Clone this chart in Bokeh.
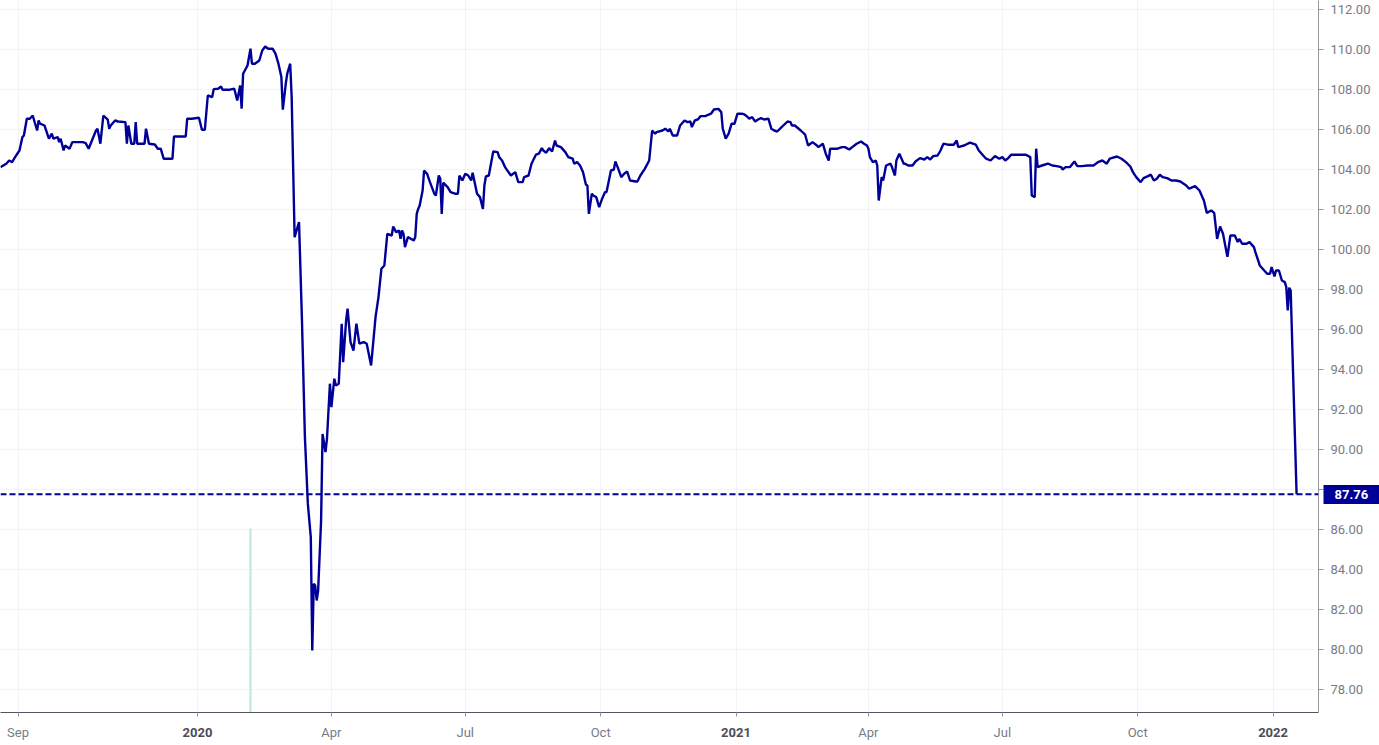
import pandas as pd
from bokeh.plotting import figure
from bokeh.models import (Range1d, FixedTicker, Span, PrintfTickFormatter,
                          DatetimeAxis, LinearAxis)
from bokeh.embed import file_html
from bokeh.resources import INLINE

# ---------------- data ----------------
dates = [
    "2019-08-20", "2019-08-24", "2019-08-26", "2019-08-28", "2019-08-30", "2019-09-02", "2019-09-04", "2019-09-05",
    "2019-09-07", "2019-09-09", "2019-09-11", "2019-09-14", "2019-09-15", "2019-09-16", "2019-09-19", "2019-09-22",
    "2019-09-24", "2019-09-25", "2019-09-28", "2019-09-29", "2019-09-30", "2019-10-02", "2019-10-03", "2019-10-06",
    "2019-10-08", "2019-10-15", "2019-10-17", "2019-10-19", "2019-10-24", "2019-10-25", "2019-10-27", "2019-10-29",
    "2019-11-01", "2019-11-02", "2019-11-03", "2019-11-06", "2019-11-08", "2019-11-13", "2019-11-14", "2019-11-15",
    "2019-11-17", "2019-11-19", "2019-11-20", "2019-11-21", "2019-11-26", "2019-11-27", "2019-11-29", "2019-12-03",
    "2019-12-05", "2019-12-07", "2019-12-09", "2019-12-15", "2019-12-16", "2019-12-24", "2019-12-25", "2019-12-28",
    "2020-01-02", "2020-01-04", "2020-01-06", "2020-01-08", "2020-01-11", "2020-01-12", "2020-01-15", "2020-01-17",
    "2020-01-18", "2020-01-23", "2020-01-26", "2020-01-28", "2020-01-30", "2020-01-31", "2020-02-01", "2020-02-04",
    "2020-02-06", "2020-02-07", "2020-02-09", "2020-02-12", "2020-02-14", "2020-02-16", "2020-02-18", "2020-02-21",
    "2020-02-23", "2020-02-25", "2020-02-27", "2020-02-28", "2020-03-01", "2020-03-02", "2020-03-04", "2020-03-05",
    "2020-03-07", "2020-03-10", "2020-03-12", "2020-03-14", "2020-03-16", "2020-03-18", "2020-03-19", "2020-03-20",
    "2020-03-21", "2020-03-22", "2020-03-23", "2020-03-25", "2020-03-26", "2020-03-28", "2020-03-29", "2020-03-31",
    "2020-04-01", "2020-04-03", "2020-04-04", "2020-04-06", "2020-04-08", "2020-04-09", "2020-04-11", "2020-04-12",
    "2020-04-14", "2020-04-16", "2020-04-18", "2020-04-20", "2020-04-23", "2020-04-25", "2020-04-28", "2020-05-01",
    "2020-05-03", "2020-05-05", "2020-05-07", "2020-05-09", "2020-05-12", "2020-05-13", "2020-05-15", "2020-05-17",
    "2020-05-18", "2020-05-19", "2020-05-20", "2020-05-21", "2020-05-23", "2020-05-25", "2020-05-27", "2020-05-28",
    "2020-05-29", "2020-05-30", "2020-05-31", "2020-06-02", "2020-06-03", "2020-06-05", "2020-06-07", "2020-06-10",
    "2020-06-11", "2020-06-13", "2020-06-14", "2020-06-15", "2020-06-16", "2020-06-19", "2020-06-21", "2020-06-24",
    "2020-06-26", "2020-06-27", "2020-06-29", "2020-07-01", "2020-07-03", "2020-07-05", "2020-07-06", "2020-07-09",
    "2020-07-11", "2020-07-13", "2020-07-14", "2020-07-15", "2020-07-17", "2020-07-20", "2020-07-23", "2020-07-24",
    "2020-07-26", "2020-07-28", "2020-08-01", "2020-08-04", "2020-08-06", "2020-08-09", "2020-08-10", "2020-08-13",
    "2020-08-15", "2020-08-18", "2020-08-20", "2020-08-22", "2020-08-23", "2020-08-25", "2020-08-27", "2020-08-29",
    "2020-08-31", "2020-09-01", "2020-09-04", "2020-09-07", "2020-09-09", "2020-09-12", "2020-09-13", "2020-09-15",
    "2020-09-17", "2020-09-19", "2020-09-21", "2020-09-22", "2020-09-23", "2020-09-25", "2020-09-26", "2020-09-28",
    "2020-09-30", "2020-10-02", "2020-10-04", "2020-10-05", "2020-10-08", "2020-10-10", "2020-10-11", "2020-10-13",
    "2020-10-15", "2020-10-17", "2020-10-19", "2020-10-21", "2020-10-25", "2020-10-26", "2020-10-28", "2020-10-31",
    "2020-11-03", "2020-11-05", "2020-11-07", "2020-11-08", "2020-11-12", "2020-11-14", "2020-11-16", "2020-11-17",
    "2020-11-19", "2020-11-22", "2020-11-24", "2020-11-27", "2020-11-29", "2020-12-01", "2020-12-02", "2020-12-04",
    "2020-12-06", "2020-12-08", "2020-12-11", "2020-12-15", "2020-12-17", "2020-12-20", "2020-12-22", "2020-12-23",
    "2020-12-25", "2020-12-27", "2020-12-29", "2020-12-31", "2021-01-02", "2021-01-05", "2021-01-07", "2021-01-09",
    "2021-01-10", "2021-01-12", "2021-01-14", "2021-01-16", "2021-01-18", "2021-01-20", "2021-01-23", "2021-01-25",
    "2021-01-27", "2021-01-29", "2021-02-01", "2021-02-05", "2021-02-07", "2021-02-08", "2021-02-10", "2021-02-14",
    "2021-02-17", "2021-02-19", "2021-02-22", "2021-02-25", "2021-02-26", "2021-03-01", "2021-03-03", "2021-03-05",
    "2021-03-06", "2021-03-11", "2021-03-14", "2021-03-16", "2021-03-19", "2021-03-21", "2021-03-24", "2021-03-27",
    "2021-03-29", "2021-03-31", "2021-04-01", "2021-04-02", "2021-04-04", "2021-04-06", "2021-04-07", "2021-04-08",
    "2021-04-10", "2021-04-11", "2021-04-13", "2021-04-16", "2021-04-17", "2021-04-19", "2021-04-20", "2021-04-22",
    "2021-04-23", "2021-04-25", "2021-04-26", "2021-04-28", "2021-05-01", "2021-05-03", "2021-05-06", "2021-05-09",
    "2021-05-11", "2021-05-13", "2021-05-15", "2021-05-18", "2021-05-20", "2021-05-22", "2021-05-25", "2021-05-29",
    "2021-05-31", "2021-06-01", "2021-06-05", "2021-06-09", "2021-06-13", "2021-06-15", "2021-06-18", "2021-06-20",
    "2021-06-23", "2021-06-26", "2021-06-29", "2021-07-01", "2021-07-03", "2021-07-05", "2021-07-07", "2021-07-11",
    "2021-07-17", "2021-07-20", "2021-07-21", "2021-07-23", "2021-07-24", "2021-07-25", "2021-07-28", "2021-08-01",
    "2021-08-04", "2021-08-07", "2021-08-10", "2021-08-11", "2021-08-13", "2021-08-16", "2021-08-19", "2021-08-21",
    "2021-08-24", "2021-08-28", "2021-09-01", "2021-09-04", "2021-09-07", "2021-09-10", "2021-09-12", "2021-09-17",
    "2021-09-20", "2021-09-23", "2021-09-26", "2021-09-28", "2021-09-30", "2021-10-03", "2021-10-05", "2021-10-08",
    "2021-10-10", "2021-10-12", "2021-10-14", "2021-10-16", "2021-10-18", "2021-10-21", "2021-10-24", "2021-10-27",
    "2021-10-30", "2021-11-03", "2021-11-05", "2021-11-09", "2021-11-12", "2021-11-15", "2021-11-17", "2021-11-20",
    "2021-11-22", "2021-11-24", "2021-11-26", "2021-11-28", "2021-12-01", "2021-12-03", "2021-12-06", "2021-12-08",
    "2021-12-09", "2021-12-11", "2021-12-14", "2021-12-16", "2021-12-19", "2021-12-20", "2021-12-23", "2021-12-26",
    "2021-12-28", "2021-12-30", "2021-12-31", "2022-01-02", "2022-01-03", "2022-01-05", "2022-01-07", "2022-01-09",
    "2022-01-10", "2022-01-11", "2022-01-12", "2022-01-13", "2022-01-16", "2022-01-17",
]
prices = [
    104.12, 104.29, 104.45, 104.37, 104.62, 104.95, 105.62, 105.70,
    106.54, 106.54, 106.70, 105.95, 106.45, 106.29, 106.20, 105.54,
    105.79, 105.54, 105.62, 105.37, 105.54, 104.95, 105.20, 105.04,
    105.37, 105.37, 105.32, 105.04, 105.95, 106.04, 105.29, 106.70,
    106.49, 106.04, 106.20, 106.45, 106.40, 106.37, 105.29, 106.20,
    105.29, 105.29, 106.37, 105.29, 105.29, 106.04, 105.29, 105.25,
    105.04, 105.04, 104.54, 104.54, 105.65, 105.65, 106.54, 106.54,
    106.59, 105.99, 105.99, 107.70, 107.62, 108.02, 108.04, 108.15,
    107.99, 107.99, 108.04, 107.45, 108.20, 107.04, 108.79, 109.20,
    110.04, 109.29, 109.29, 109.45, 109.95, 110.15, 110.04, 110.04,
    109.79, 109.29, 108.62, 106.99, 108.29, 108.79, 109.29, 107.62,
    100.62, 101.37, 96.45, 90.62, 87.28, 85.62, 79.95, 83.28,
    83.20, 82.45, 82.95, 86.45, 90.78, 89.87, 90.54, 93.29,
    92.12, 93.54, 93.20, 93.29, 96.29, 94.37, 96.45, 97.04,
    95.37, 94.95, 96.29, 95.29, 95.37, 95.29, 94.20, 96.62,
    97.62, 99.04, 99.20, 100.78, 100.70, 101.15, 100.87, 100.95,
    100.54, 100.95, 100.79, 100.12, 100.62, 100.54, 100.45, 100.62,
    101.78, 102.03, 102.20, 102.95, 103.95, 103.79, 103.37, 102.78,
    102.70, 103.70, 103.54, 101.78, 103.34, 103.12, 102.87, 102.79,
    102.79, 103.70, 103.45, 103.79, 103.70, 103.45, 103.84, 102.79,
    102.62, 102.03, 103.20, 103.65, 103.70, 104.90, 104.87, 104.62,
    104.45, 104.12, 103.70, 103.87, 103.37, 103.37, 103.62, 103.70,
    104.29, 104.74, 104.79, 105.07, 104.95, 104.84, 105.07, 104.90,
    105.45, 105.20, 105.12, 104.87, 104.62, 104.54, 104.29, 104.37,
    104.20, 103.87, 103.24, 103.20, 101.78, 102.79, 102.70, 102.62,
    102.12, 102.54, 102.87, 102.87, 103.95, 104.00, 104.40, 104.03,
    103.62, 103.79, 103.90, 103.45, 103.40, 103.40, 103.70, 104.03,
    104.45, 105.95, 105.79, 105.87, 105.95, 106.04, 105.90, 106.04,
    105.70, 105.70, 106.20, 106.45, 106.37, 106.40, 106.12, 106.45,
    106.50, 106.67, 106.67, 106.79, 107.00, 107.03, 106.87, 106.04,
    105.54, 105.79, 106.29, 106.29, 106.79, 106.79, 106.74, 106.62,
    106.54, 106.62, 106.40, 106.50, 106.57, 106.50, 106.54, 106.04,
    105.95, 105.90, 106.12, 106.40, 106.37, 106.20, 106.20, 105.95,
    105.74, 105.20, 105.37, 105.20, 105.12, 105.29, 104.79, 104.45,
    105.04, 105.04, 105.12, 105.12, 105.00, 105.12, 105.29, 105.40,
    105.29, 105.20, 105.04, 104.62, 104.37, 104.45, 104.20, 102.45,
    103.62, 103.45, 104.20, 104.29, 104.12, 103.70, 104.45, 104.79,
    104.62, 104.29, 104.29, 104.20, 104.20, 104.40, 104.57, 104.50,
    104.62, 104.50, 104.67, 104.70, 104.95, 105.29, 105.24, 105.24,
    105.45, 105.12, 105.20, 105.34, 105.24, 104.95, 104.70, 104.54,
    104.45, 104.67, 104.54, 104.62, 104.45, 104.57, 104.74, 104.74,
    104.74, 104.62, 102.70, 102.62, 105.04, 104.12, 104.20, 104.29,
    104.20, 104.17, 104.12, 104.00, 104.12, 104.12, 104.40, 104.17,
    104.17, 104.20, 104.20, 104.37, 104.45, 104.29, 104.54, 104.65,
    104.54, 104.37, 104.15, 103.84, 103.62, 103.37, 103.57, 103.67,
    103.74, 103.45, 103.54, 103.74, 103.62, 103.57, 103.45, 103.45,
    103.40, 103.20, 103.04, 103.17, 102.95, 102.45, 101.83, 101.95,
    101.83, 100.53, 101.15, 100.79, 99.63, 100.70, 100.70, 100.37,
    100.53, 100.29, 100.29, 100.37, 100.12, 99.87, 99.20, 98.95,
    98.79, 98.79, 99.12, 98.65, 98.95, 98.95, 98.45, 98.37,
    98.12, 96.95, 98.09, 97.95, 90.31, 87.76,
]
last_price = 87.76
marker_date = "2020-02-06"
marker_top = 86.05

x_tick_dates = ["2019-09-01", "2020-01-01", "2020-04-01", "2020-07-01", "2020-10-01",
                "2021-01-01", "2021-04-01", "2021-07-01", "2021-10-01", "2022-01-01"]
x_tick_labels = ["Sep", "2020", "Apr", "Jul", "Oct", "2021", "Apr", "Jul", "Oct", "2022"]
year_labels = {"2020", "2021", "2022"}
y_ticks = list(range(78, 113, 2))

# ---------------- styling ----------------
NAVY = "#000099"
GRID = "#f0f3fa"
AXIS_TEXT = "#787b86"
YEAR_TEXT = "#4a4d57"
FONT = "Roboto"

x_start = pd.Timestamp("2019-08-20 02:30")
x_end = pd.Timestamp("2022-01-31 21:30")
y_start, y_end = 76.85, 112.45


def ms(ts):
    return pd.Timestamp(ts).value / 1e6


x = pd.to_datetime(dates)

p = figure(width=1379, height=745, x_axis_type="datetime", y_axis_location="right",
           x_range=Range1d(x_start, x_end), y_range=Range1d(y_start, y_end),
           output_backend="svg", toolbar_location=None,
           min_border_left=0, min_border_top=0, min_border_right=61, min_border_bottom=33)
p.outline_line_color = None
p.background_fill_color = "white"
p.border_fill_color = "white"

# grid
p.xgrid.grid_line_color = GRID
p.ygrid.grid_line_color = GRID

# x axis: month labels (years blank here, drawn bold by a second axis)
tick_ms = [ms(d) for d in x_tick_dates]
xa = p.xaxis[0]
xa.ticker = FixedTicker(ticks=tick_ms)
xa.major_label_overrides = {t: ("" if lab in year_labels else lab)
                            for t, lab in zip(tick_ms, x_tick_labels)}
xa.axis_line_color = "#50535e"
xa.major_tick_line_color = "#9598a1"
xa.major_tick_in = 0
xa.major_tick_out = 4
xa.minor_tick_line_color = None
xa.major_label_standoff = 8
xa.major_label_text_color = AXIS_TEXT
xa.major_label_text_font = FONT
xa.major_label_text_font_size = "13px"

# second time axis with bold year labels, pulled up onto the month row
year_ticks = [t for t, lab in zip(tick_ms, x_tick_labels) if lab in year_labels]
ya_years = DatetimeAxis(ticker=FixedTicker(ticks=year_ticks))
ya_years.major_label_overrides = {t: lab for t, lab in zip(tick_ms, x_tick_labels) if lab in year_labels}
ya_years.axis_line_color = None
ya_years.major_tick_line_color = None
ya_years.minor_tick_line_color = None
ya_years.major_tick_in = 0
ya_years.major_tick_out = 0
ya_years.major_label_standoff = -15
ya_years.major_label_text_color = YEAR_TEXT
ya_years.major_label_text_font = FONT
ya_years.major_label_text_font_size = "13px"
ya_years.major_label_text_font_style = "bold"
p.add_layout(ya_years, "below")

# y axis
yax = p.yaxis[0]
yax.ticker = FixedTicker(ticks=y_ticks)
yax.formatter = PrintfTickFormatter(format="%.2f")
yax.major_label_overrides = {88: ""}
yax.axis_line_color = "#9598a1"
yax.major_tick_line_color = "#9598a1"
yax.major_tick_in = 0
yax.major_tick_out = 5
yax.minor_tick_line_color = None
yax.major_label_standoff = 7
yax.major_label_text_color = AXIS_TEXT
yax.major_label_text_font = FONT
yax.major_label_text_font_size = "13px"

# last-price tag: an outer axis whose single thick tick forms the box
tag = LinearAxis(ticker=FixedTicker(ticks=[last_price]), formatter=PrintfTickFormatter(format="%.2f"))
tag.axis_line_color = None
tag.minor_tick_line_color = None
tag.major_tick_line_color = NAVY
tag.major_tick_line_width = 19
tag.major_tick_line_cap = "butt"
tag.major_tick_in = 50
tag.major_tick_out = 7
tag.major_label_standoff = -46
tag.major_label_text_color = "white"
tag.major_label_text_font = FONT
tag.major_label_text_font_size = "13px"
tag.major_label_text_font_style = "bold"
p.add_layout(tag, "right")

# marker bar
mx = pd.to_datetime([marker_date])
p.segment(x0=mx, y0=[marker_top], x1=mx, y1=[y_start], line_color="#bfe6d6", line_width=2)

# price line
p.line(x, prices, line_color=NAVY, line_width=2.4)

# last price dashed line
p.add_layout(Span(location=last_price, dimension="width", line_color=NAVY,
                  line_width=2, line_dash="6 3"))

open("out.html", "w").write(file_html(p, INLINE))
